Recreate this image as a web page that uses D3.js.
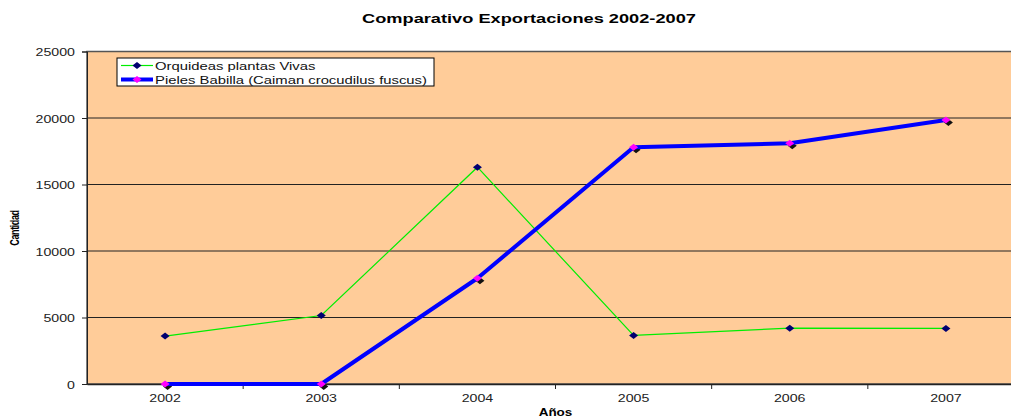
<!DOCTYPE html>
<html><head><meta charset="utf-8">
<script src="https://cdn.jsdelivr.net/npm/d3@7"></script>
<style>
html,body{margin:0;padding:0;background:#fff;overflow:hidden}
text{font-family:"Liberation Sans",Arial,sans-serif}
</style></head>
<body><svg id="c" width="1011" height="418"></svg>
<script>
const years = ["2002","2003","2004","2005","2006","2007"];
const orquideas = [3600, 5150, 16300, 3650, 4200, 4180];
const pieles = [0, 0, 7950, 17800, 18100, 19850];
const yTicks = [0, 5000, 10000, 15000, 20000, 25000];
const seriesNames = ["Orquideas plantas Vivas", "Pieles Babilla (Caiman crocudilus fuscus)"];

const svg = d3.select("#c");
const L = 87, R = 1024, T = 51.5, B = 384;
const SX = 1.35; // wide lettering

const x = d3.scaleBand().domain(years).range([L, R]).paddingInner(0).paddingOuter(0);
const y = d3.scaleLinear().domain([0, 25000]).range([B, T]);
const cx = d => x(d) + x.bandwidth() / 2;

// text placed at (px,py), drawn horizontally widened
function wideText(sel, px, py) {
  return sel.attr("x", 0).attr("y", 0).attr("transform", `translate(${px},${py}) scale(${SX},1)`);
}

// plot area
svg.append("rect").attr("x", L).attr("y", T).attr("width", R - L).attr("height", B - T)
  .attr("fill", "#FFCC99").attr("stroke", "#555").attr("stroke-width", 1.5);

// horizontal gridlines
svg.append("g").selectAll("line").data(yTicks.slice(1, -1)).join("line")
  .attr("x1", L).attr("x2", R).attr("y1", d => y(d)).attr("y2", d => y(d))
  .attr("stroke", "#222").attr("stroke-width", 1);

// y axis
const yAxis = svg.append("g").attr("transform", `translate(${L},0)`)
  .call(d3.axisLeft(y).tickValues(yTicks).tickSize(5).tickFormat(d3.format("d")));
yAxis.select(".domain").attr("stroke", "#222");
yAxis.selectAll(".tick line").attr("stroke", "#222");
yAxis.selectAll(".tick text").attr("font-size", 10.5).attr("fill", "#222").attr("dy", null)
  .each(function () { wideText(d3.select(this), -12, 4); });

// x axis with ticks at category boundaries
const xAxis = svg.append("g").attr("transform", `translate(0,${B})`)
  .call(d3.axisBottom(x).tickSize(0));
xAxis.select(".domain").attr("stroke", "#222").attr("stroke-width", 1.5);
xAxis.selectAll(".tick text").attr("font-size", 10.5).attr("fill", "#222").attr("dy", null)
  .each(function () { wideText(d3.select(this), 0, 18); });
svg.append("g").selectAll("line").data(years.slice(1)).join("line")
  .attr("x1", d => x(d)).attr("x2", d => x(d)).attr("y1", B).attr("y2", B + 5)
  .attr("stroke", "#222");

const line = d3.line().x((d, i) => cx(years[i])).y(d => y(d));
// wide diamond marker
const diamond = "M-4.5,0L0,-3.5L4.5,0L0,3.5Z";

// Orquideas series
svg.append("path").datum(orquideas).attr("d", line)
  .attr("fill", "none").attr("stroke", "#00EE00").attr("stroke-width", 1.2);
svg.append("g").selectAll("path").data(orquideas).join("path")
  .attr("d", diamond)
  .attr("transform", (d, i) => `translate(${cx(years[i])},${y(d)})`)
  .attr("fill", "#000070");

// Pieles series: marker shadows, line, markers
svg.append("g").selectAll("path").data(pieles).join("path")
  .attr("d", diamond)
  .attr("transform", (d, i) => `translate(${cx(years[i]) + 2.5},${y(d) + 2.5})`)
  .attr("fill", "#111");
svg.append("path").datum(pieles).attr("d", line)
  .attr("fill", "none").attr("stroke", "#0000FF").attr("stroke-width", 4)
  .attr("stroke-linejoin", "round");
svg.append("g").selectAll("path").data(pieles).join("path")
  .attr("d", diamond)
  .attr("transform", (d, i) => `translate(${cx(years[i])},${y(d)})`)
  .attr("fill", "#FF00FF");

// title and axis titles
wideText(svg.append("text"), 529, 23).attr("text-anchor", "middle")
  .attr("font-size", 13.5).attr("font-weight", "bold").text("Comparativo Exportaciones 2002-2007");
wideText(svg.append("text"), 555.5, 416).attr("text-anchor", "middle")
  .attr("font-size", 10).attr("font-weight", "bold").text("Años");
svg.append("text").attr("transform", `translate(19,228) scale(${SX},1) rotate(-90)`)
  .attr("text-anchor", "middle")
  .attr("font-size", 9).attr("font-weight", "bold").attr("letter-spacing", -0.4).text("Cantidad");

// legend
const lg = svg.append("g").attr("transform", "translate(117,58)");
lg.append("rect").attr("width", 317).attr("height", 28).attr("fill", "#fff").attr("stroke", "#000");
const legendItems = [
  {name: seriesNames[0], stroke: "#00EE00", w: 1.2, m: "#000070"},
  {name: seriesNames[1], stroke: "#0000FF", w: 4, m: "#FF00FF"}
];
legendItems.forEach((s, i) => {
  const yy = 7.5 + i * 14;
  lg.append("line").attr("x1", 4).attr("x2", 36).attr("y1", yy).attr("y2", yy)
    .attr("stroke", s.stroke).attr("stroke-width", s.w);
  lg.append("path").attr("d", diamond).attr("transform", `translate(20,${yy})`).attr("fill", s.m);
  wideText(lg.append("text"), 38, yy + 4).attr("font-size", 11).attr("fill", "#111").text(s.name);
});
</script></body></html>
